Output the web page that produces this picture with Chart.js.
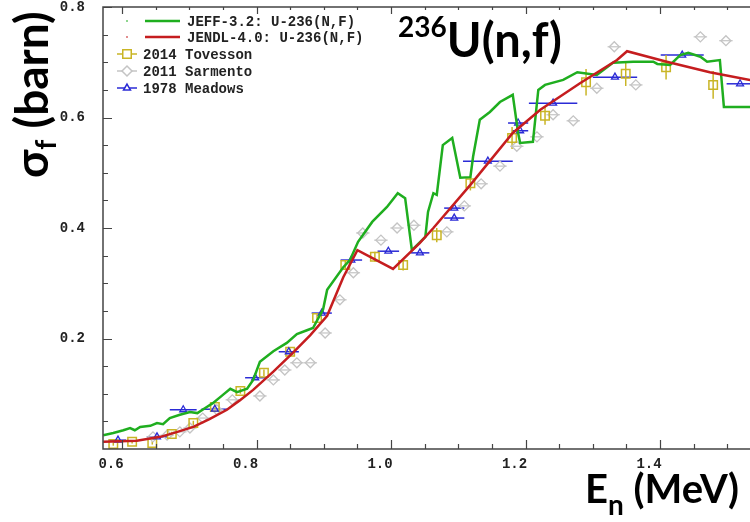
<!DOCTYPE html>
<html>
<head>
<meta charset="utf-8">
<script src="https://cdn.jsdelivr.net/npm/chart.js@4/dist/chart.umd.min.js"></script>
<style>
  body { margin: 0; background: #fff; }
  #wrap { position: relative; width: 750px; height: 522px; overflow: hidden; }
  .big { position: absolute; font-family: Lato, "Open Sans", sans-serif; font-weight: bold; color: #000; white-space: nowrap; }
</style>
</head>
<body>
<div id="wrap">
  <canvas id="xsChart" width="750" height="522"></canvas>
  <div class="big" id="ttl" style="left:398px; top:16px; font-size:47px; line-height:46px;"><span style="font-size:28px; position:relative; top:-20px;">236</span>U(n,f)</div>
  <div class="big" id="xlab" style="left:585px; top:468px; font-size:40px; line-height:40px;">E<span style="font-size:28px; position:relative; top:12px;">n</span> (MeV)</div>
  <div class="big" id="ylab" style="left:8px; top:178px; font-size:46px; line-height:46px; transform-origin:0 0; transform:rotate(-90deg);">σ<span style="font-size:28px; position:relative; top:8px;">f</span> (barn)</div>
</div>
<script>
// JEFF-3.2 evaluation (green)
var jeffE = [0.572,0.587,0.602,0.612,0.619,0.627,0.642,0.652,0.661,0.671,0.686,0.701,0.712,0.726,0.735,0.750,0.761,0.771,0.786,0.795,0.805,0.825,0.845,0.860,0.875,0.884,0.899,0.905,0.929,0.939,0.951,0.972,0.994,1.010,1.021,1.031,1.051,1.055,1.063,1.068,1.077,1.091,1.103,1.118,1.122,1.132,1.147,1.162,1.181,1.189,1.192,1.211,1.219,1.229,1.256,1.277,1.306,1.330,1.360,1.390,1.396,1.415,1.430,1.442,1.460,1.470,1.489,1.495,1.534];
var jeffXS = [0.025,0.029,0.034,0.038,0.034,0.040,0.042,0.047,0.045,0.056,0.062,0.067,0.065,0.076,0.083,0.098,0.109,0.103,0.109,0.125,0.158,0.177,0.192,0.208,0.215,0.219,0.253,0.288,0.329,0.342,0.375,0.411,0.438,0.463,0.454,0.360,0.384,0.429,0.463,0.460,0.550,0.563,0.491,0.492,0.529,0.596,0.610,0.628,0.641,0.572,0.554,0.556,0.650,0.659,0.668,0.682,0.677,0.699,0.701,0.701,0.697,0.695,0.713,0.717,0.710,0.701,0.704,0.619,0.619];

// JENDL-4.0 evaluation (red)
var jendlE = [0.572,0.622,0.657,0.680,0.706,0.730,0.756,0.775,0.795,0.825,0.854,0.880,0.905,0.929,0.950,1.003,1.043,1.063,1.118,1.181,1.222,1.281,1.336,1.351,1.410,1.474,1.534];
var jendlXS = [0.013,0.015,0.022,0.030,0.040,0.054,0.071,0.088,0.107,0.140,0.174,0.206,0.241,0.311,0.360,0.326,0.373,0.400,0.478,0.572,0.614,0.662,0.704,0.720,0.701,0.682,0.668];

// 2014 Tovesson
var tovE = [0.587,0.615,0.645,0.674,0.706,0.738,0.776,0.811,0.850,0.890,0.932,0.976,1.018,1.068,1.118,1.180,1.229,1.290,1.349,1.409,1.479];
var tovXS = [0.009,0.013,0.011,0.027,0.047,0.076,0.105,0.138,0.176,0.237,0.333,0.348,0.333,0.387,0.481,0.563,0.603,0.664,0.679,0.691,0.659];
var tovErr = [0.003,0.003,0.003,0.004,0.004,0.005,0.005,0.006,0.006,0.007,0.008,0.009,0.010,0.013,0.013,0.020,0.016,0.024,0.022,0.022,0.025];

// 2011 Sarmento
var sarE = [0.646,0.667,0.686,0.701,0.720,0.741,0.764,0.805,0.825,0.842,0.860,0.880,0.902,0.924,0.944,0.958,0.985,1.009,1.034,1.083,1.109,1.134,1.162,1.187,1.217,1.241,1.271,1.306,1.332,1.364,1.460,1.498];
var sarXS = [0.022,0.025,0.031,0.038,0.056,0.071,0.089,0.096,0.125,0.143,0.156,0.156,0.210,0.270,0.319,0.391,0.378,0.400,0.405,0.393,0.440,0.480,0.512,0.548,0.565,0.605,0.594,0.653,0.728,0.659,0.746,0.739];
var sarErr = 0.010;

// 1978 Meadows
var meaE = [0.594,0.652,0.691,0.738,0.798,0.848,0.897,0.941,0.996,1.043,1.094,1.094,1.144,1.189,1.192,1.241,1.333,1.433,1.519];
var meaXS = [0.016,0.022,0.071,0.072,0.129,0.176,0.246,0.342,0.358,0.355,0.436,0.418,0.521,0.590,0.576,0.626,0.673,0.713,0.661];
var meaErr = [0.012,0.015,0.020,0.020,0.015,0.015,0.015,0.016,0.016,0.014,0.015,0.015,0.037,0.015,0.012,0.036,0.033,0.032,0.020];

// axis ticks
var xTicks = [0.60,0.65,0.70,0.75,0.80,0.85,0.90,0.95,1.00,1.05,1.10,1.15,1.20,1.25,1.30,1.35,1.40,1.45,1.50];
var xTickLabels = ['0.6','','','','0.8','','','','1.0','','','','1.2','','','','1.4','',''];
var yTicks = [0.05,0.10,0.15,0.20,0.25,0.30,0.35,0.40,0.45,0.50,0.55,0.60,0.65,0.70,0.75,0.80];
var yTickLabels = ['','','','0.2','','','','0.4','','','','0.6','','','','0.8'];

function pts(xs, ys) {
  return xs.map(function(x, i) { return {x: x, y: ys[i]}; });
}

var monoCss = 'bold 14px "Liberation Mono", "DejaVu Sans Mono", monospace';
var monoFont = {family: '"Liberation Mono", "DejaVu Sans Mono", monospace', size: 14, weight: 'bold'};

// error bars, frame, inner tick marks, x labels and the legend box
var decor = {
  id: 'decor',
  beforeDatasetsDraw: function(chart) {
    var ctx = chart.ctx, xs = chart.scales.x, ys = chart.scales.y, a = chart.chartArea;
    ctx.save();
    ctx.beginPath();
    ctx.rect(a.left, a.top, a.right - a.left, a.bottom - a.top);
    ctx.clip();
    chart.data.datasets.forEach(function(ds) {
      if (!ds.errX && !ds.errY) return;
      ctx.strokeStyle = ds.borderColor;
      ctx.lineWidth = ds.errWidth || 1.5;
      ds.data.forEach(function(p, i) {
        var px = xs.getPixelForValue(p.x), py = ys.getPixelForValue(p.y);
        ctx.beginPath();
        if (ds.errX) {
          var ex = Array.isArray(ds.errX) ? ds.errX[i] : ds.errX;
          ctx.moveTo(xs.getPixelForValue(p.x - ex), py);
          ctx.lineTo(xs.getPixelForValue(p.x + ex), py);
        }
        if (ds.errY) {
          var ey = Array.isArray(ds.errY) ? ds.errY[i] : ds.errY;
          ctx.moveTo(px, ys.getPixelForValue(p.y - ey));
          ctx.lineTo(px, ys.getPixelForValue(p.y + ey));
        }
        ctx.stroke();
      });
    });
    ctx.restore();
  },
  afterDraw: function(chart) {
    var ctx = chart.ctx, xs = chart.scales.x, ys = chart.scales.y, a = chart.chartArea;
    ctx.save();
    ctx.strokeStyle = '#444';
    ctx.lineWidth = 1.5;
    ctx.beginPath();
    ctx.moveTo(a.right, a.top); ctx.lineTo(a.left, a.top);
    ctx.lineTo(a.left, a.bottom); ctx.lineTo(a.right, a.bottom);
    ctx.stroke();
    ctx.lineWidth = 1.2;
    ctx.beginPath();
    xTicks.forEach(function(v, i) {
      var px = Math.round(xs.getPixelForValue(v)) + 0.5;
      var len = xTickLabels[i] ? 9 : 5;
      ctx.moveTo(px, a.bottom); ctx.lineTo(px, a.bottom - len);
      ctx.moveTo(px, a.top); ctx.lineTo(px, a.top + len - 2);
    });
    yTicks.forEach(function(v, i) {
      var py = Math.round(ys.getPixelForValue(v)) + 0.5;
      var len = yTickLabels[i] ? 9 : 5;
      ctx.moveTo(a.left, py); ctx.lineTo(a.left + len, py);
    });
    ctx.stroke();

    // x tick labels sit a little left of their ticks, as in the source plot
    ctx.font = monoCss;
    ctx.fillStyle = '#222';
    ctx.textAlign = 'center';
    ctx.textBaseline = 'top';
    xTicks.forEach(function(v, i) {
      if (xTickLabels[i]) ctx.fillText(xTickLabels[i], xs.getPixelForValue(v) - 11, a.bottom + 8);
    });

    // legend
    var ds = chart.data.datasets;
    var rows = [
      {d: ds[1], y: 21, line: true},
      {d: ds[0], y: 37, line: true},
      {d: ds[3], y: 54},
      {d: ds[4], y: 71},
      {d: ds[2], y: 88}
    ];
    ctx.textAlign = 'left';
    ctx.textBaseline = 'middle';
    rows.forEach(function(r) {
      if (r.line) {
        ctx.fillStyle = r.d.borderColor;
        ctx.globalAlpha = 0.5;
        ctx.fillRect(126, r.y - 1, 2, 2);
        ctx.globalAlpha = 1;
        ctx.strokeStyle = r.d.borderColor;
        ctx.lineWidth = 2.5;
        ctx.beginPath(); ctx.moveTo(145, r.y); ctx.lineTo(180, r.y); ctx.stroke();
        ctx.fillStyle = '#222';
        ctx.fillText(r.d.label, 187, r.y + 1);
      } else {
        ctx.strokeStyle = r.d.borderColor;
        ctx.lineWidth = 1.5;
        ctx.beginPath(); ctx.moveTo(117, r.y); ctx.lineTo(137, r.y); ctx.stroke();
        ctx.fillStyle = '#fff';
        Chart.helpers.drawPoint(ctx, {pointStyle: r.d.pointStyle, radius: r.d.pointRadius, borderWidth: 1.5}, 127, r.y);
        ctx.fillStyle = '#222';
        ctx.fillText(r.d.label, 143, r.y + 1);
      }
    });
    ctx.restore();
  }
};

var xsCanvas = document.getElementById('xsChart');

var xsChart = new Chart(xsCanvas, {
  type: 'scatter',
  data: {
    datasets: [
      {label: 'JENDL-4.0: U-236(N,F)', data: pts(jendlE, jendlXS), showLine: true, borderColor: '#c51d1f', borderWidth: 2.5, pointRadius: 0, tension: 0},
      {label: 'JEFF-3.2: U-236(N,F)', data: pts(jeffE, jeffXS), showLine: true, borderColor: '#1fae1f', borderWidth: 2.5, pointRadius: 0, tension: 0},
      {label: '1978 Meadows', data: pts(meaE, meaXS), borderColor: '#2b2bd6', backgroundColor: 'rgba(255,255,255,0)', pointStyle: 'triangle', pointRadius: 4, borderWidth: 1.3, errX: meaErr, errWidth: 1.5},
      {label: '2014 Tovesson', data: pts(tovE, tovXS), borderColor: '#c9b526', backgroundColor: 'rgba(255,255,255,0)', pointStyle: 'rect', pointRadius: 6, borderWidth: 1.5, errY: tovErr, errWidth: 1.5},
      {label: '2011 Sarmento', data: pts(sarE, sarXS), borderColor: '#c4c4c4', backgroundColor: 'rgba(255,255,255,0)', pointStyle: 'rectRot', pointRadius: 5, borderWidth: 1.3, errX: sarErr, errWidth: 1.2}
    ]
  },
  options: {
    responsive: false,
    animation: false,
    layout: {autoPadding: false, padding: {top: 7, right: 0, left: 0, bottom: 0}},
    plugins: {legend: {display: false}, tooltip: {enabled: false}},
    scales: {
      x: {
        type: 'linear', min: 0.5717, max: 1.5338,
        afterBuildTicks: function(s) { s.ticks = xTicks.map(function(v) { return {value: v}; }); },
        afterFit: function(s) { s.height = 73; },
        grid: {display: false}, border: {display: false},
        ticks: {display: false}
      },
      y: {
        type: 'linear', min: 0, max: 0.8,
        afterBuildTicks: function(s) { s.ticks = yTicks.map(function(v) { return {value: v}; }); },
        afterFit: function(s) { s.width = 103; s.paddingTop = 0; s.paddingBottom = 0; },
        grid: {display: false}, border: {display: false},
        ticks: {autoSkip: false, padding: 10, color: '#222', font: monoFont,
          callback: function(v, i) { return yTickLabels[i]; }}
      }
    }
  },
  plugins: [decor]
});
</script>
</body>
</html>
